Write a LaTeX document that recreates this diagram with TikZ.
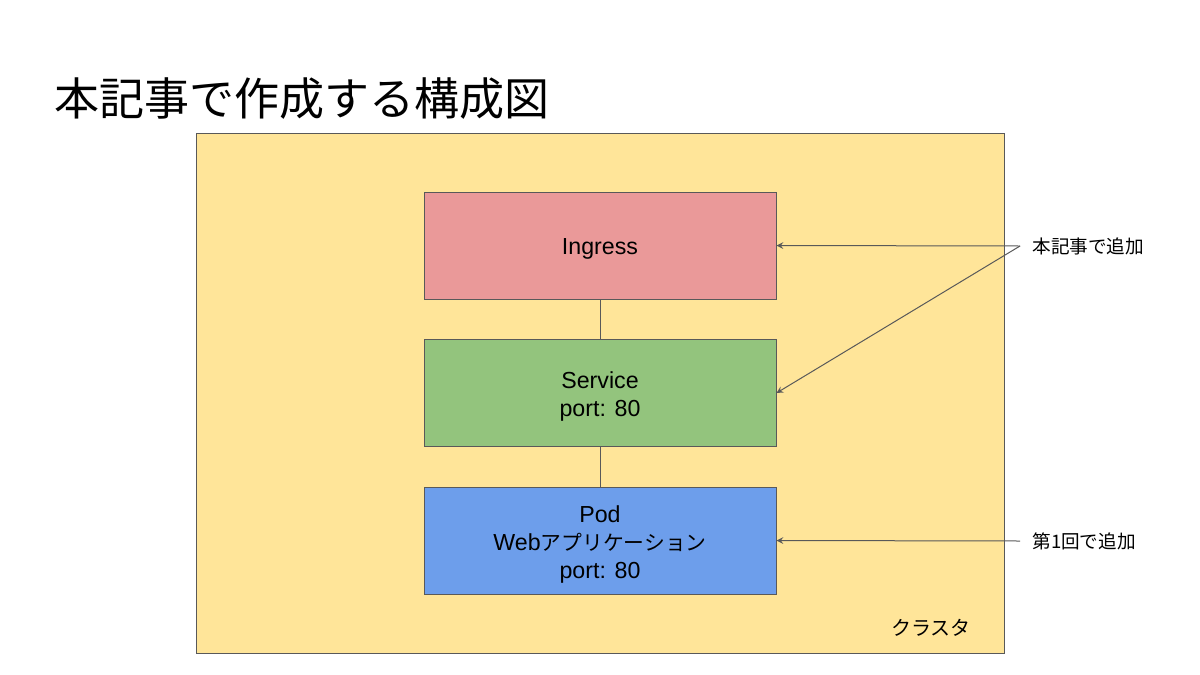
\documentclass[tikz,border=0pt]{standalone}
\usepackage{fontspec}
\setmainfont{Liberation Sans}
\newfontfamily\jp{Noto Sans CJK JP}
\usepackage{xcolor}
\definecolor{clusterfill}{HTML}{FFE599}
\definecolor{ingressfill}{HTML}{EA9999}
\definecolor{servicefill}{HTML}{93C47D}
\definecolor{podfill}{HTML}{6D9EEB}
\definecolor{edgegray}{HTML}{595959}
\newcommand{\topgap}{\rule{0pt}{12pt}}

\begin{document}
\begin{tikzpicture}[x=0.5pt,y=-0.5pt,
    box/.style={draw=edgegray,line width=0.5pt,minimum width=176pt,minimum height=53.5pt,
      align=center,font=\fontsize{11.6pt}{14pt}\selectfont},
    note/.style={anchor=west,inner xsep=6pt,font=\jp\fontsize{9.3pt}{11pt}\selectfont},
    pointer/.style={draw=edgegray,line width=0.5pt,-stealth}]
  \useasboundingbox[fill=white] (0,0) rectangle (1200,675);
  % title
  \node[anchor=west,inner sep=0pt,font=\jp\fontsize{22.5pt}{26pt}\selectfont] (title) at (54,99) {本記事で作成する構成図};
  % cluster
  \node[draw=edgegray,line width=0.5pt,fill=clusterfill,minimum width=404pt,minimum height=260pt] (cluster) at (600,393) {};
  \node[font=\jp\fontsize{10pt}{12pt}\selectfont] (clusterlabel) at (931,628) {クラスタ};
  % components
  \node[box,fill=ingressfill] (ingress) at (600,245.5) {\rule{0pt}{11.5pt}Ingress};
  \node[box,fill=servicefill] (service) at (600,393) {\topgap Service\\port: 80};
  \node[box,fill=podfill] (pod) at (600,540.5) {\topgap Pod\\Web{\jp\fontsize{10.4pt}{14pt}\selectfont アプリケーション}\\port: 80};
  \draw[edgegray,line width=0.5pt] (ingress) -- (service);
  \draw[edgegray,line width=0.5pt] (service) -- (pod);
  % notes
  \node[note] (added) at (1020,246) {本記事で追加};
  \node[note] (first) at (1020,541) {第1回で追加};
  \draw[pointer] (added.west) -- (ingress.east);
  \draw[pointer] (added.west) -- (service.east);
  \draw[pointer] (first.west) -- (pod.east);
\end{tikzpicture}
\end{document}
